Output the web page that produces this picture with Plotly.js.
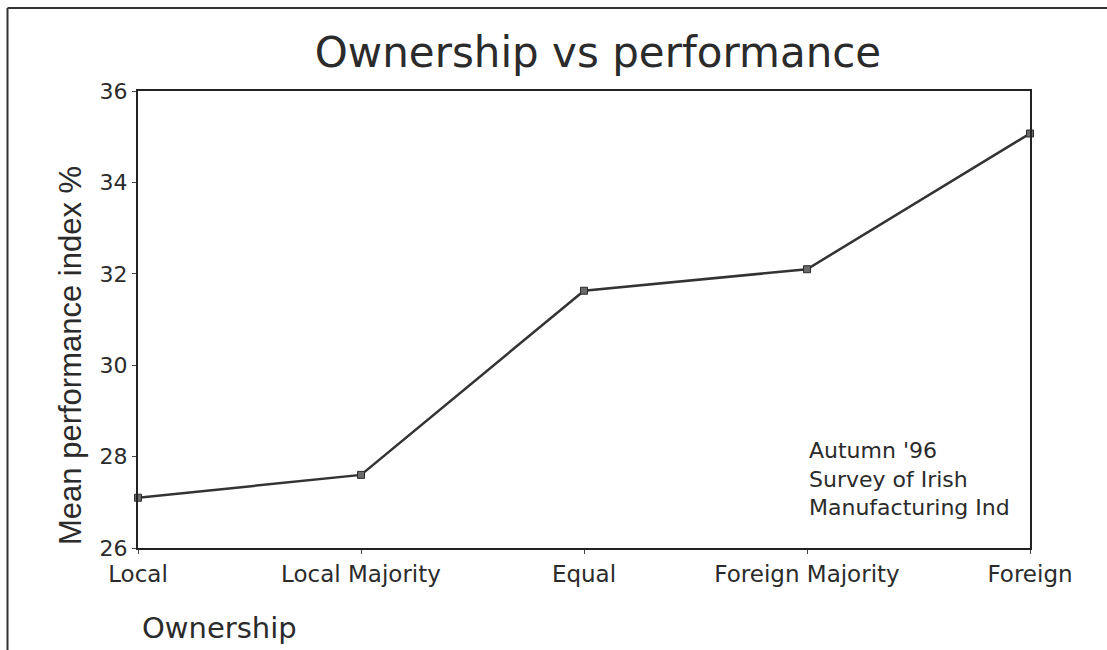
<!DOCTYPE html>
<html>
<head>
<meta charset="utf-8">
<script src="https://cdn.plot.ly/plotly-3.0.1.min.js"></script>
<style>
  html, body { margin: 0; padding: 0; background: #ffffff; }
  #chart { width: 1107px; height: 650px; }
</style>
</head>
<body>
<div id="chart"></div>
<script>
// ---- data ----
const categories = ["Local", "Local Majority", "Equal", "Foreign Majority", "Foreign"];
const meanPerformance = [27.1, 27.6, 31.63, 32.1, 35.07];
const yTickValues = [26, 28, 30, 32, 34, 36];
const titleText = "Ownership vs performance";
const yTitleText = "Mean performance index %";
const xTitleText = "Ownership";
const noteLines = ["Autumn '96", "Survey of Irish", "Manufacturing Ind"];

// ---- layout helpers ----
const W = 1107, H = 650;
const M = { l: 138, r: 77, t: 91, b: 102 };
const pw = W - M.l - M.r, ph = H - M.t - M.b;
const px = x => (x - M.l) / pw;          // pixel -> paper x
const py = y => (H - M.b - y) / ph;      // pixel -> paper y

const ink = "#2b2b2b";
const sans = "DejaVu Sans, Liberation Sans, Arial, sans-serif";

const trace = {
  type: "scatter",
  mode: "lines+markers",
  x: categories,
  y: meanPerformance,
  line: { color: "#333333", width: 2.5 },
  marker: { symbol: "square", size: 7, color: "#6a6a6a", line: { color: "#2b2b2b", width: 1 } },
  cliponaxis: false,
  hoverinfo: "x+y"
};

const annotations = [
  {
    text: noteLines.join("<br>"), xref: "paper", yref: "paper",
    x: px(807), y: py(479), xanchor: "left", yanchor: "middle", align: "left",
    showarrow: false, font: { family: sans, size: 22, color: ink }
  },
  {
    text: yTitleText, xref: "paper", yref: "paper",
    x: px(70), y: py(356), xanchor: "center", yanchor: "middle", textangle: -90,
    showarrow: false, font: { family: "Liberation Sans, Arial, sans-serif", size: 31, color: ink }
  },
  {
    text: xTitleText, xref: "paper", yref: "paper",
    x: px(140), y: py(628), xanchor: "left", yanchor: "middle",
    showarrow: false, font: { family: sans, size: 29, color: ink }
  }
];

const layout = {
  width: W, height: H,
  margin: M,
  paper_bgcolor: "#ffffff",
  plot_bgcolor: "#ffffff",
  showlegend: false,
  title: {
    text: titleText,
    font: { family: sans, size: 42, color: ink },
    xref: "paper", x: px(598), xanchor: "center",
    yref: "container", y: 1 - 52 / H, yanchor: "middle"
  },
  xaxis: {
    type: "category",
    range: [0, categories.length - 1],
    showgrid: false, zeroline: false,
    showline: true, linecolor: "#222222", linewidth: 2, mirror: true,
    ticks: "outside", ticklen: 4, tickwidth: 1, tickcolor: "#444444",
    tickfont: { family: sans, size: 23, color: ink },
    fixedrange: true
  },
  yaxis: {
    range: [26, 36],
    tickvals: yTickValues,
    showgrid: false, zeroline: false,
    showline: true, linecolor: "#222222", linewidth: 2, mirror: true,
    ticks: "outside", ticklen: 4, tickwidth: 1, tickcolor: "#444444",
    tickfont: { family: sans, size: 22, color: ink },
    fixedrange: true
  },
  annotations: annotations,
  shapes: [
    { type: "line", xref: "paper", yref: "paper", x0: px(7.5), x1: px(1107), y0: py(8), y1: py(8),
      line: { color: "#333333", width: 2 } },
    { type: "line", xref: "paper", yref: "paper", x0: px(7.5), x1: px(7.5), y0: py(8), y1: py(650),
      line: { color: "#333333", width: 2 } }
  ]
};

Plotly.newPlot("chart", [trace], layout, { displayModeBar: false, staticPlot: true });
</script>
</body>
</html>
